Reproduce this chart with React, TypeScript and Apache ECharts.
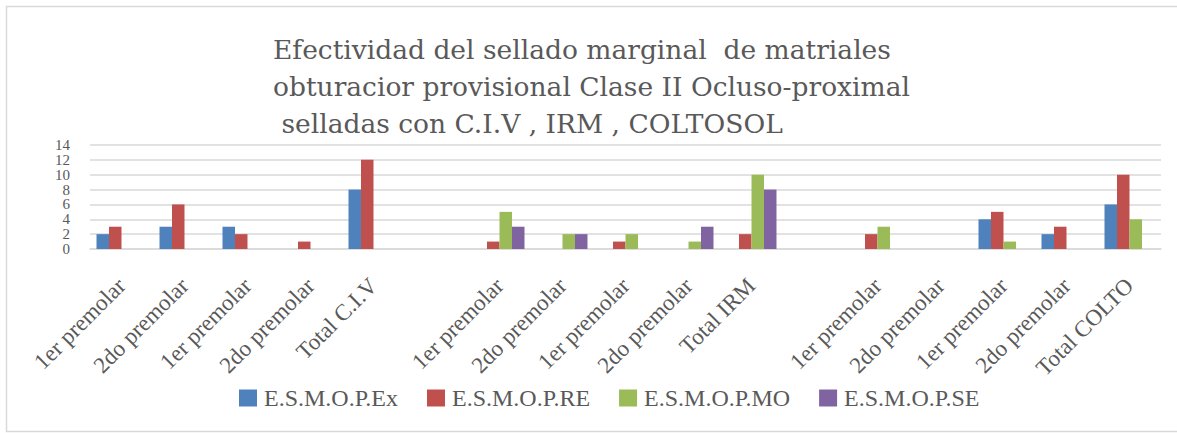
import React, { useEffect, useRef } from "react";
import * as echarts from "echarts";

const categories = [
  "1er premolar", "2do premolar", "1er premolar", "2do premolar", "Total C.I.V",
  "",
  "1er premolar", "2do premolar", "1er premolar", "2do premolar", "Total IRM",
  "",
  "1er premolar", "2do premolar", "1er premolar", "2do premolar", "Total COLTOSOL",
];

const seriesNames = ["E.S.M.O.P.Ex", "E.S.M.O.P.RE", "E.S.M.O.P.MO", "E.S.M.O.P.SE"];

const exValues = [2, 3, 3, null, 8, null, null, null, null, null, null, null, null, null, 4, 2, 6];
const reValues = [3, 6, 2, 1, 12, null, 1, null, 1, null, 2, null, 2, null, 5, 3, 10];
const moValues = [null, null, null, null, null, null, 5, 2, 2, 1, 10, null, 3, null, 1, null, 4];
const seValues = [null, null, null, null, null, null, 3, 2, null, 3, 8, null, null, null, null, null, null];

const yTicks = [0, 2, 4, 6, 8, 10, 12, 14];

const titleLines = [
  "Efectividad del sellado marginal  de matriales",
  "obturacior provisional Clase II Ocluso-proximal",
  " selladas con C.I.V , IRM , COLTOSOL",
];

const colors = ["#4f81bd", "#c0504d", "#9bbb59", "#8064a2"];

export default function App() {
  const ref = useRef<HTMLDivElement>(null);
  useEffect(() => {
    if (!ref.current) return;
    const chart = echarts.init(ref.current, undefined, { renderer: "svg" });
    const values = [exValues, reValues, moValues, seValues];
    const serif = "Liberation Serif";
    const lastIdx = categories.length - 1;
    const catData = categories.map((c, i) =>
      i === lastIdx
        ? { value: c, textStyle: { width: 128, overflow: "truncate", ellipsis: "" } }
        : c
    );
    chart.setOption({
      animation: false,
      color: colors,
      title: {
        text: titleLines.join("\n"),
        left: 268,
        top: 26,
        textStyle: {
          fontFamily: "DejaVu Serif",
          fontSize: 26.5,
          lineHeight: 37,
          fontWeight: "normal",
          color: "#595959",
        },
      },
      legend: {
        left: 239,
        top: 386,
        itemWidth: 18,
        itemHeight: 17,
        itemGap: 29,
        padding: 0,
        icon: "rect",
        textStyle: { fontFamily: serif, fontSize: 24, color: "#595959", padding: [0, 0, 0, 2] },
        data: seriesNames,
      },
      grid: { left: 90, right: 16, top: 145, bottom: 184, containLabel: false },
      xAxis: {
        type: "category",
        data: catData,
        axisTick: { show: false },
        axisLine: { show: true, lineStyle: { color: "#d9d9d9", width: 1.5 } },
        axisLabel: {
          interval: 0,
          rotate: 45,
          margin: 33,
          fontFamily: serif,
          fontSize: 23,
          color: "#595959",
        },
      },
      yAxis: {
        type: "value",
        min: yTicks[0],
        max: yTicks[yTicks.length - 1],
        interval: 2,
        axisLine: { show: false },
        axisTick: { show: false },
        splitLine: { lineStyle: { color: "#d9d9d9", width: 1.5 } },
        axisLabel: {
          margin: 20,
          showMinLabel: true,
          showMaxLabel: true,
          hideOverlap: false,
          fontFamily: serif,
          fontSize: 15,
          lineHeight: 15,
          color: "#595959",
        },
      },
      graphic: [
        {
          type: "rect",
          shape: { x: 6.5, y: 6.5, width: 1190, height: 425 },
          style: { fill: "none", stroke: "#d9d9d9", lineWidth: 1.5 },
          silent: true,
        },
      ],
      series: seriesNames.map((name, i) => ({
        name,
        type: "bar",
        data: values[i],
        barWidth: 12.5,
        barGap: "0%",
        itemStyle: { color: colors[i] },
      })),
    });
    return () => chart.dispose();
  }, []);
  return (
    <div
      ref={ref}
      style={{ position: "absolute", left: 0, top: 0, width: 1177, height: 433, background: "#fff" }}
    />
  );
}
